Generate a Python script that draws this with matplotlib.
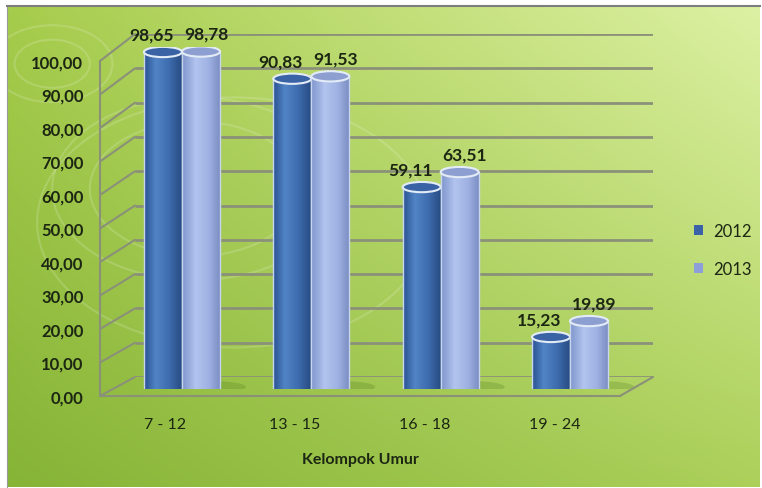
import numpy as np
import matplotlib.pyplot as plt
from matplotlib.patches import Rectangle, Ellipse, ConnectionPatch, Circle, Arc, Patch
from matplotlib.colors import LinearSegmentedColormap, to_rgb

plt.rcParams['font.family'] = ['Lato', 'DejaVu Sans']

kategori = ['7 - 12', '13 - 15', '16 - 18', '19 - 24']
tahun = ['2012', '2013']
nilai_2012 = [98.65, 90.83, 59.11, 15.23]
nilai_2013 = [98.78, 91.53, 63.51, 19.89]
y_ticks = [0, 10, 20, 30, 40, 50, 60, 70, 80, 90, 100]
y_labels = ['0,00', '10,00', '20,00', '30,00', '40,00', '50,00',
            '60,00', '70,00', '80,00', '90,00', '100,00']

W, H = 762, 489
fig = plt.figure(figsize=(W / 100, H / 100), dpi=100)
fig.patch.set_facecolor('white')


def px_axes(x0, y0, x1, y1):
    # pixel box, origin top-left
    return fig.add_axes([x0 / W, 1 - y1 / H, (x1 - x0) / W, (y1 - y0) / H])


# latar belakang hijau
bg = px_axes(7, 7, 760, 488)
tl, tr = np.array(to_rgb('#a6cc4c')), np.array(to_rgb('#ddf1a4'))
bl, br = np.array(to_rgb('#86b437')), np.array(to_rgb('#acd05a'))
u = np.linspace(0, 1, 200)[None, :, None]
v = np.linspace(0, 1, 200)[:, None, None]
img = (tl * (1 - u) * (1 - v) + tr * u * (1 - v) + bl * (1 - u) * v + br * u * v)
bg.imshow(np.clip(img, 0, 1), extent=(0, 1, 0, 1), aspect='auto', zorder=0)
for (cx, cy, r) in [(0.06, 0.88, 0.05), (0.06, 0.88, 0.08), (0.25, 0.62, 0.14),
                    (0.25, 0.62, 0.19), (0.30, 0.55, 0.26)]:
    bg.add_patch(Circle((cx, cy), r, transform=bg.transAxes, fill=False,
                        ec='white', lw=1.5, alpha=0.16))
bg.set_xlim(0, 1)
bg.set_ylim(0, 1)
bg.set_xticks([])
bg.set_yticks([])
for s in ['right', 'bottom']:
    bg.spines[s].set_visible(False)
bg.spines['top'].set_color('#7d7d7d')
bg.spines['left'].set_color('#9a9a9a')
bg.spines['top'].set_linewidth(1.5)

grid_c = '#8b9179'

# dinding belakang
back = px_axes(135, 35, 653, 378)
back.set_xlim(-0.5, 3.5)
back.set_ylim(0, 100)
back.axis('off')
back.hlines(y_ticks, -0.5, 3.5, color=grid_c, lw=2)

# bidang depan (label sumbu)
front = px_axes(100, 62, 620, 397)
front.set_facecolor('none')
front.set_xlim(-0.5, 3.5)
front.set_ylim(0, 100)
front.set_yticks(y_ticks)
front.set_yticklabels(y_labels, fontsize=12, fontweight='bold', color='#1c2612')
front.set_xticks(range(len(kategori)))
front.set_xticklabels(kategori, fontsize=11.5, color='#1c2612')
front.tick_params(length=0)
front.tick_params(axis='y', pad=12)
front.tick_params(axis='x', pad=15)
for s in ['top', 'right']:
    front.spines[s].set_visible(False)
for s in ['left', 'bottom']:
    front.spines[s].set_color(grid_c)
    front.spines[s].set_linewidth(1.5)
front.set_xlabel('Kelompok Umur', fontsize=11.5, fontweight='bold',
                 color='#1c2612', labelpad=15)

for t in y_ticks:
    fig.add_artist(ConnectionPatch(xyA=(-0.5, t), coordsA=front.transData,
                                   xyB=(-0.5, t), coordsB=back.transData,
                                   color=grid_c, lw=1.5))
fig.add_artist(ConnectionPatch(xyA=(3.5, 0), coordsA=front.transData,
                               xyB=(3.5, 0), coordsB=back.transData,
                               color=grid_c, lw=1.5))

# silinder
mid = px_axes(117.3, 48.4, 634.7, 390)
mid.set_facecolor('none')

cmap_2012 = LinearSegmentedColormap.from_list(
    'c12', [(0, '#2a5290'), (0.3, '#5184c6'), (0.65, '#3e6cae'), (1, '#264a80')])
cmap_2013 = LinearSegmentedColormap.from_list(
    'c13', [(0, '#7f95cc'), (0.35, '#b2c4ee'), (0.7, '#9eb1e2'), (1, '#7a8cc0')])
top_2012 = '#3a63a5'
top_2013 = '#8d9ed0'
lebar = 0.294
eh = 3.0
ramp = np.linspace(0, 1, 64)[None, :]
geser_label = [-0.09, 0.04]


def silinder(ax, xc, h, cmap, top_c, zo):
    x0 = xc - lebar / 2
    for clip in [Rectangle((x0, 0), lebar, h, transform=ax.transData),
                 Ellipse((xc, 0), lebar, eh, transform=ax.transData)]:
        im = ax.imshow(ramp, cmap=cmap, extent=(x0, x0 + lebar, -eh, h),
                       aspect='auto', zorder=zo)
        im.set_clip_path(clip)
    ax.plot([x0, x0], [0, h], color='#c7d5ee', lw=1, zorder=zo + 0.1)
    ax.plot([x0 + lebar, x0 + lebar], [0, h], color='#c7d5ee', lw=1, zorder=zo + 0.1)
    ax.add_patch(Arc((xc, 0), lebar, eh, theta1=180, theta2=360,
                     color='#d6e2f4', lw=1.2, zorder=zo + 0.1))
    ax.add_patch(Ellipse((xc, h), lebar, eh, fc=top_c, ec='#e3ebf7', lw=1.5,
                         zorder=zo + 0.2))


for i, kat in enumerate(kategori):
    mid.add_patch(Ellipse((i + 0.22, 0.6), 0.55, 3.5, fc='#4f7a1c', ec='none',
                          alpha=0.25, zorder=1))
    for j, (nilai, cmap, top_c) in enumerate([(nilai_2012, cmap_2012, top_2012),
                                              (nilai_2013, cmap_2013, top_2013)]):
        xc = i + (j - 0.5) * lebar
        h = nilai[i]
        silinder(mid, xc, h, cmap, top_c, 2 + j)
        mid.text(xc + geser_label[j], h + 2.8, f'{h:.2f}'.replace('.', ','),
                 ha='center', va='bottom', fontsize=12.5, fontweight='bold',
                 color='#1c2612', zorder=6)

mid.set_xlim(-0.5, 3.5)
mid.set_ylim(0, 100)
mid.axis('off')

# legenda
handles = [Patch(fc='#3b62a8', ec='none'), Patch(fc='#8c9fd8', ec='none')]
fig.legend(handles, tahun, loc='center left', bbox_to_anchor=(679 / W, 1 - 251 / H),
           frameon=False, handlelength=0.55, handleheight=0.55, handletextpad=0.6,
           labelspacing=1.3, prop={'size': 12}, labelcolor='#1c2612')

plt.savefig('out.png', dpi=100)
